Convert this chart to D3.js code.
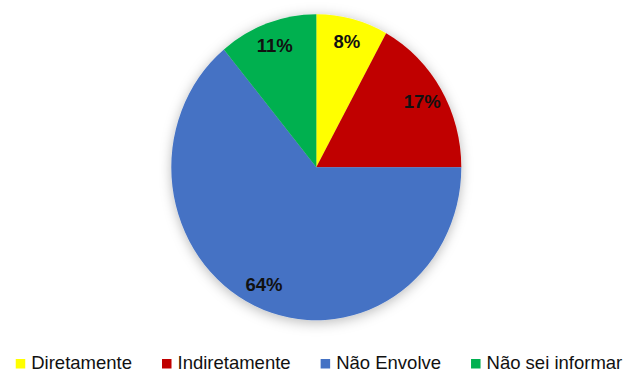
<!DOCTYPE html>
<html>
<head>
<meta charset="utf-8">
<script src="https://cdn.jsdelivr.net/npm/d3@7"></script>
<style>
  html, body { margin: 0; padding: 0; background: #ffffff; }
  svg { display: block; }
</style>
</head>
<body>
<svg id="chart" width="627" height="372"></svg>
<script>
// ---- data ----
const categories = ["Diretamente", "Indiretamente", "Não Envolve", "Não sei informar"];
const values = [8, 17, 64, 11];
const labels = ["8%", "17%", "64%", "11%"];
const colors = ["#FFFF00", "#C00000", "#4472C4", "#00B050"];

// ---- layout ----
const W = 627, H = 372;
const cx = 316.3, cy = 167.3;
const rx = 145, ry = 153;
const labelR = 123;

const svg = d3.select("#chart");

const defs = svg.append("defs");
const filt = defs.append("filter").attr("id", "shadow")
  .attr("x", "-20%").attr("y", "-20%").attr("width", "140%").attr("height", "140%");
filt.append("feDropShadow")
  .attr("dx", 0).attr("dy", 2).attr("stdDeviation", 6)
  .attr("flood-color", "#000").attr("flood-opacity", 0.28);

const pie = d3.pie().sort(null).value(d => d);
const arcs = pie(values);
const arc = d3.arc().innerRadius(0).outerRadius(rx);

const g = svg.append("g")
  .attr("transform", `translate(${cx},${cy}) scale(1,${ry / rx})`)
  .attr("filter", "url(#shadow)");

g.selectAll("path")
  .data(arcs)
  .join("path")
  .attr("d", arc)
  .attr("fill", (d, i) => colors[i]);

// labels (positioned on the stretched ellipse)
svg.append("g").selectAll("text")
  .data(arcs)
  .join("text")
  .attr("x", d => {
    const a = (d.startAngle + d.endAngle) / 2;
    return cx + labelR * Math.sin(a);
  })
  .attr("y", d => {
    const a = (d.startAngle + d.endAngle) / 2;
    return cy - labelR * Math.cos(a) * ry / rx;
  })
  .attr("dy", "0.36em")
  .attr("text-anchor", "middle")
  .attr("font-family", "Liberation Sans, Arial, sans-serif")
  .attr("font-weight", "bold")
  .attr("font-size", 18.5)
  .attr("fill", "#111")
  .text((d, i) => labels[i]);

// legend
const legend = svg.append("g");
const fs = 18.5, sq = 9.5, gapText = 6, gapItem = 30;
const items = legend.selectAll("g")
  .data(categories)
  .join("g");
items.append("rect")
  .attr("width", sq).attr("height", sq)
  .attr("y", 359)
  .attr("fill", (d, i) => colors[i]);
items.append("text")
  .attr("x", sq + gapText)
  .attr("y", 369.3)
  .attr("font-family", "Liberation Sans, Arial, sans-serif")
  .attr("font-size", fs)
  .attr("fill", "#111")
  .text(d => d);

let x = 0;
const xs = [];
items.each(function () {
  const tw = d3.select(this).select("text").node().getComputedTextLength();
  xs.push(x);
  x += sq + gapText + tw + gapItem;
});
const total = x - gapItem;
const startX = 319 - total / 2;
items.attr("transform", (d, i) => `translate(${startX + xs[i]},0)`);
</script>
</body>
</html>
